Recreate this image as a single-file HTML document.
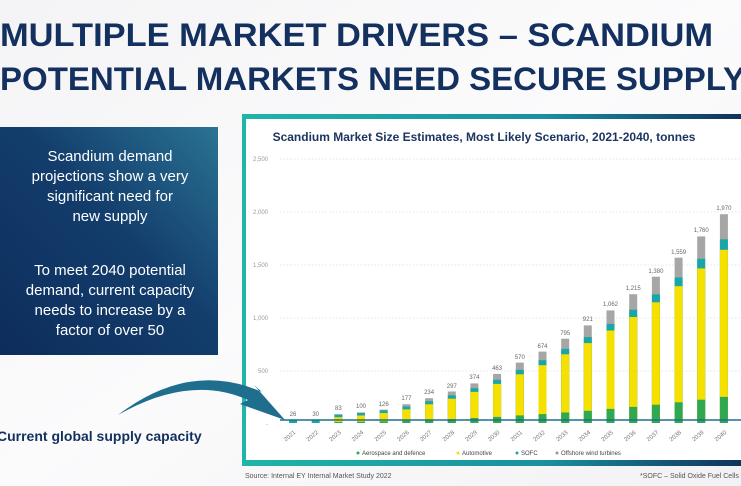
<!DOCTYPE html>
<html><head><meta charset="utf-8"><style>
html,body{margin:0;padding:0;background:#fff}
svg{display:block}
</style></head><body>
<svg width="741" height="486" viewBox="0 0 741 486" xmlns="http://www.w3.org/2000/svg" font-family="Liberation Sans, sans-serif">
<defs>
<linearGradient id="bg" x1="0" y1="0" x2="1" y2="1"><stop offset="0" stop-color="#f4f4f6"/><stop offset="0.5" stop-color="#fbfbfc"/><stop offset="1" stop-color="#f2f2f4"/></linearGradient>
<linearGradient id="box" x1="0" y1="1" x2="1" y2="0"><stop offset="0" stop-color="#0d2d5c"/><stop offset="0.55" stop-color="#133d6c"/><stop offset="1" stop-color="#2a7394"/></linearGradient>
<linearGradient id="frame" x1="0" y1="0" x2="1" y2="0"><stop offset="0" stop-color="#1fb5a8"/><stop offset="0.6" stop-color="#1a8fa0"/><stop offset="1" stop-color="#0f2f5a"/></linearGradient>
<g id="b"></g>
</defs>
<rect width="741" height="486" fill="url(#bg)"/>
<text x="0" y="46" font-size="32" font-weight="bold" fill="#13305e" textLength="713" lengthAdjust="spacingAndGlyphs">MULTIPLE MARKET DRIVERS – SCANDIUM</text>
<text x="0" y="90" font-size="32" font-weight="bold" fill="#13305e" textLength="745" lengthAdjust="spacingAndGlyphs">POTENTIAL MARKETS NEED SECURE SUPPLY</text>
<rect x="0" y="127" width="218" height="228" fill="url(#box)"/>
<g fill="#fff" font-size="15" text-anchor="middle">
<text x="110" y="161">Scandium demand</text>
<text x="110" y="181">projections show a very</text>
<text x="110" y="201">significant need for</text>
<text x="110" y="221">new supply</text>
<text x="110" y="275">To meet 2040 potential</text>
<text x="110" y="295">demand, current capacity</text>
<text x="110" y="315">needs to increase by a</text>
<text x="110" y="335">factor of over 50</text>
</g>
<text x="-3" y="441" font-size="14" font-weight="bold" fill="#13305e">Current global supply capacity</text>
<rect x="242" y="114" width="505" height="352" fill="#fff"/>
<rect x="242" y="114" width="505" height="5" fill="url(#frame)"/>
<rect x="242" y="460" width="505" height="6" fill="url(#frame)"/>
<rect x="242" y="114" width="4" height="352" fill="#1fb5a8"/>
<text x="484" y="141" font-size="12" font-weight="bold" fill="#1d3560" text-anchor="middle">Scandium Market Size Estimates, Most Likely Scenario, 2021-2040, tonnes</text>
<g font-size="6" fill="#999">
<text x="268" y="161" text-anchor="end">2,500</text>
<text x="268" y="214" text-anchor="end">2,000</text>
<text x="268" y="267" text-anchor="end">1,500</text>
<text x="268" y="320" text-anchor="end">1,000</text>
<text x="268" y="373" text-anchor="end">500</text>
<text x="268" y="426" text-anchor="end">-</text>
</g>
<g stroke="#ddd" stroke-width="0.7" stroke-dasharray="1.5,2">
<line x1="280" y1="159" x2="741" y2="159"/>
<line x1="280" y1="212" x2="741" y2="212"/>
<line x1="280" y1="265" x2="741" y2="265"/>
<line x1="280" y1="318" x2="741" y2="318"/>
<line x1="280" y1="371" x2="741" y2="371"/>
</g>
<!-- bars: each g has gray(total), teal, yellow, green heights -->
<g>
<g transform="translate(289,423) scale(1,-1)"><rect width="8" height="2.8" fill="#1aa6a6"/></g>
<g transform="translate(311.7,423) scale(1,-1)"><rect width="8" height="3.2" fill="#1aa6a6"/></g>
<g transform="translate(334.4,423) scale(1,-1)"><rect width="8" height="8.8" fill="#a6a6a6"/><rect width="8" height="8.3" fill="#1aa6a6"/><rect width="8" height="5.8" fill="#f5e000"/><rect width="8" height="1.1" fill="#2fa84f"/></g>
<g transform="translate(357,423) scale(1,-1)"><rect width="8" height="10.6" fill="#a6a6a6"/><rect width="8" height="10" fill="#1aa6a6"/><rect width="8" height="7.5" fill="#f5e000"/><rect width="8" height="1.3" fill="#2fa84f"/></g>
<g transform="translate(379.7,423) scale(1,-1)"><rect width="8" height="13.4" fill="#a6a6a6"/><rect width="8" height="12.6" fill="#1aa6a6"/><rect width="8" height="9.95" fill="#f5e000"/><rect width="8" height="1.7" fill="#2fa84f"/></g>
<g transform="translate(402.4,423) scale(1,-1)"><rect width="8" height="18.8" fill="#a6a6a6"/><rect width="8" height="16.5" fill="#1aa6a6"/><rect width="8" height="13.6" fill="#f5e000"/><rect width="8" height="2.3" fill="#2fa84f"/></g>
<g transform="translate(425.1,423) scale(1,-1)"><rect width="8" height="24.8" fill="#a6a6a6"/><rect width="8" height="21.8" fill="#1aa6a6"/><rect width="8" height="18.7" fill="#f5e000"/><rect width="8" height="3.1" fill="#2fa84f"/></g>
<g transform="translate(447.8,423) scale(1,-1)"><rect width="8" height="31.5" fill="#a6a6a6"/><rect width="8" height="27.7" fill="#1aa6a6"/><rect width="8" height="24.3" fill="#f5e000"/><rect width="8" height="3.9" fill="#2fa84f"/></g>
<g transform="translate(470.4,423) scale(1,-1)"><rect width="8" height="39.6" fill="#a6a6a6"/><rect width="8" height="34.8" fill="#1aa6a6"/><rect width="8" height="31.1" fill="#f5e000"/><rect width="8" height="5" fill="#2fa84f"/></g>
<g transform="translate(493.1,423) scale(1,-1)"><rect width="8" height="49.1" fill="#a6a6a6"/><rect width="8" height="43.2" fill="#1aa6a6"/><rect width="8" height="39.1" fill="#f5e000"/><rect width="8" height="6.1" fill="#2fa84f"/></g>
<g transform="translate(515.8,423) scale(1,-1)"><rect width="8" height="60.4" fill="#a6a6a6"/><rect width="8" height="53.2" fill="#1aa6a6"/><rect width="8" height="48.7" fill="#f5e000"/><rect width="8" height="7.6" fill="#2fa84f"/></g>
<g transform="translate(538.5,423) scale(1,-1)"><rect width="8" height="71.4" fill="#a6a6a6"/><rect width="8" height="62.8" fill="#1aa6a6"/><rect width="8" height="57.8" fill="#f5e000"/><rect width="8" height="8.9" fill="#2fa84f"/></g>
<g transform="translate(561.2,423) scale(1,-1)"><rect width="8" height="84.3" fill="#a6a6a6"/><rect width="8" height="74.2" fill="#1aa6a6"/><rect width="8" height="68.7" fill="#f5e000"/><rect width="8" height="10.5" fill="#2fa84f"/></g>
<g transform="translate(583.8,423) scale(1,-1)"><rect width="8" height="97.6" fill="#a6a6a6"/><rect width="8" height="85.9" fill="#1aa6a6"/><rect width="8" height="79.9" fill="#f5e000"/><rect width="8" height="12.2" fill="#2fa84f"/></g>
<g transform="translate(606.5,423) scale(1,-1)"><rect width="8" height="112.6" fill="#a6a6a6"/><rect width="8" height="99.1" fill="#1aa6a6"/><rect width="8" height="92.5" fill="#f5e000"/><rect width="8" height="14.1" fill="#2fa84f"/></g>
<g transform="translate(629.2,423) scale(1,-1)"><rect width="8" height="128.8" fill="#a6a6a6"/><rect width="8" height="113.3" fill="#1aa6a6"/><rect width="8" height="106" fill="#f5e000"/><rect width="8" height="16.1" fill="#2fa84f"/></g>
<g transform="translate(651.9,423) scale(1,-1)"><rect width="8" height="146.3" fill="#a6a6a6"/><rect width="8" height="128.7" fill="#1aa6a6"/><rect width="8" height="120.7" fill="#f5e000"/><rect width="8" height="18.3" fill="#2fa84f"/></g>
<g transform="translate(674.6,423) scale(1,-1)"><rect width="8" height="165.3" fill="#a6a6a6"/><rect width="8" height="145.5" fill="#1aa6a6"/><rect width="8" height="136.8" fill="#f5e000"/><rect width="8" height="20.7" fill="#2fa84f"/></g>
<g transform="translate(697.2,423) scale(1,-1)"><rect width="8" height="186.6" fill="#a6a6a6"/><rect width="8" height="164.2" fill="#1aa6a6"/><rect width="8" height="154.6" fill="#f5e000"/><rect width="8" height="23.3" fill="#2fa84f"/></g>
<g transform="translate(719.9,423) scale(1,-1)"><rect width="8" height="208.8" fill="#a6a6a6"/><rect width="8" height="183.7" fill="#1aa6a6"/><rect width="8" height="173.2" fill="#f5e000"/><rect width="8" height="26.1" fill="#2fa84f"/></g>
</g>
<g font-size="6" fill="#666" text-anchor="middle">
<text x="293" y="416">26</text><text x="315.7" y="416">30</text><text x="338.4" y="410">83</text><text x="361" y="408">100</text>
<text x="383.7" y="406">126</text><text x="406.4" y="400">177</text><text x="429.1" y="394">234</text><text x="451.8" y="388">297</text>
<text x="474.4" y="379">374</text><text x="497.1" y="370">463</text><text x="519.8" y="359">570</text><text x="542.5" y="348">674</text>
<text x="565.2" y="335">795</text><text x="587.8" y="321">921</text><text x="610.5" y="306">1,062</text><text x="633.2" y="290">1,215</text>
<text x="655.9" y="273">1,380</text><text x="678.6" y="254">1,559</text><text x="701.2" y="232">1,760</text><text x="723.9" y="210">1,970</text>
</g>
<g font-size="6" fill="#777" text-anchor="end">
<text transform="translate(296,433) rotate(-40)">2021</text>
<text transform="translate(318.7,433) rotate(-40)">2022</text>
<text transform="translate(341.4,433) rotate(-40)">2023</text>
<text transform="translate(364,433) rotate(-40)">2024</text>
<text transform="translate(386.7,433) rotate(-40)">2025</text>
<text transform="translate(409.4,433) rotate(-40)">2026</text>
<text transform="translate(432.1,433) rotate(-40)">2027</text>
<text transform="translate(454.8,433) rotate(-40)">2028</text>
<text transform="translate(477.4,433) rotate(-40)">2029</text>
<text transform="translate(500.1,433) rotate(-40)">2030</text>
<text transform="translate(522.8,433) rotate(-40)">2031</text>
<text transform="translate(545.5,433) rotate(-40)">2032</text>
<text transform="translate(568.2,433) rotate(-40)">2033</text>
<text transform="translate(590.8,433) rotate(-40)">2034</text>
<text transform="translate(613.5,433) rotate(-40)">2035</text>
<text transform="translate(636.2,433) rotate(-40)">2036</text>
<text transform="translate(658.9,433) rotate(-40)">2037</text>
<text transform="translate(681.6,433) rotate(-40)">2038</text>
<text transform="translate(704.2,433) rotate(-40)">2039</text>
<text transform="translate(726.9,433) rotate(-40)">2040</text>
</g>
<line x1="280" y1="420" x2="741" y2="420" stroke="#1f6e8e" stroke-width="1.5"/>
<g font-size="6" fill="#444">
<circle cx="358" cy="453" r="1.5" fill="#2fa84f"/><text x="362" y="455">Aerospace and defence</text>
<circle cx="458" cy="453" r="1.5" fill="#f5e000"/><text x="462" y="455">Automotive</text>
<circle cx="517" cy="453" r="1.5" fill="#1aa6a6"/><text x="521" y="455">SOFC</text>
<circle cx="557" cy="453" r="1.5" fill="#999"/><text x="561" y="455">Offshore wind turbines</text>
</g>
<text x="245" y="478" font-size="7" fill="#555">Source: Internal EY Internal Market Study 2022</text>
<text x="640" y="478" font-size="7" fill="#555">*SOFC – Solid Oxide Fuel Cells</text>
<path d="M118 415 Q190 360 262 392 L254 385 L285 420 L240 404 L248 400 Q190 374 118 415 Z" fill="#1f6e8e"/>
</svg>
</body></html>
